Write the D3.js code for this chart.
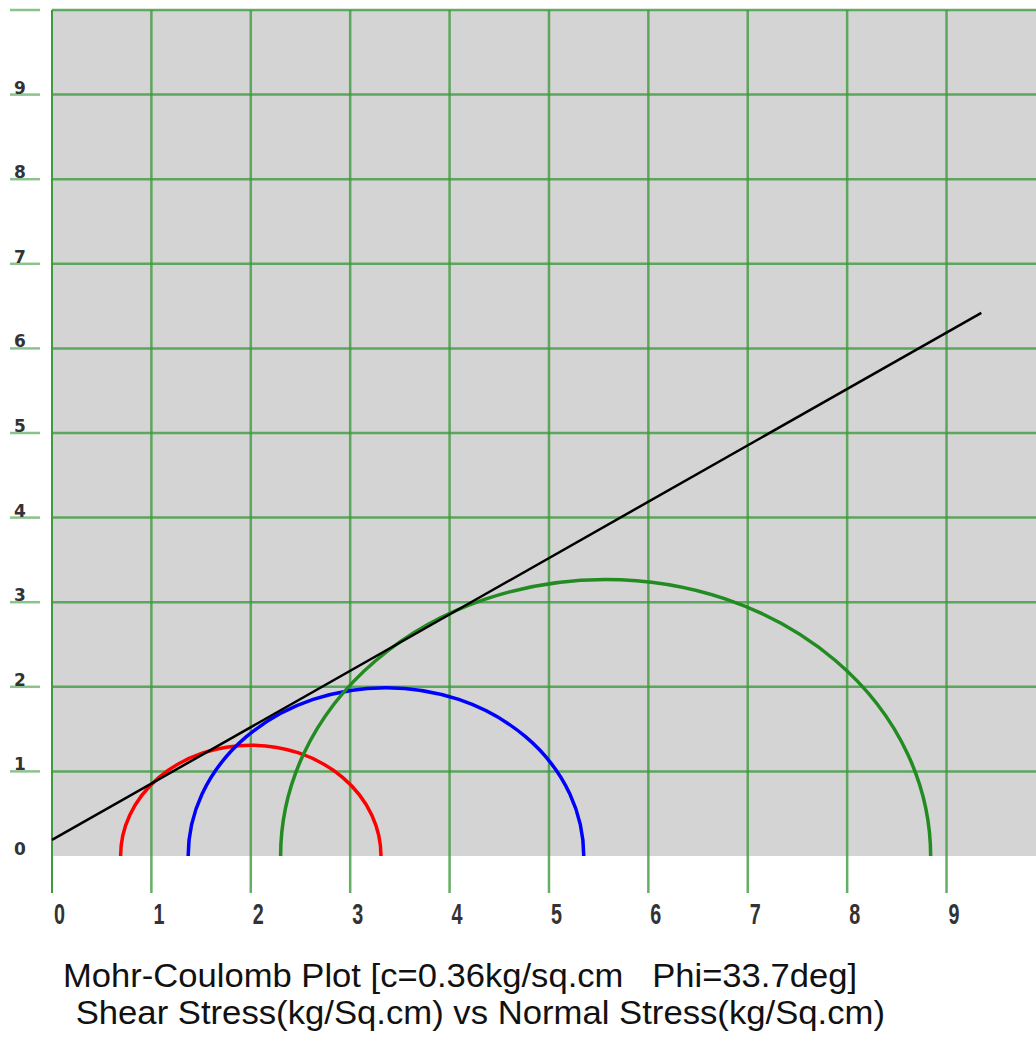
<!DOCTYPE html>
<html>
<head>
<meta charset="utf-8">
<script src="https://cdn.jsdelivr.net/npm/d3@7"></script>
<style>
  html, body { margin: 0; padding: 0; background: #fff; }
  svg { display: block; }
</style>
</head>
<body>
<div id="chart"></div>
<script>
// values
const xTicks = [0, 1, 2, 3, 4, 5, 6, 7, 8, 9];
const yTicks = [0, 1, 2, 3, 4, 5, 6, 7, 8, 9, 10];
const circleNames = ['test1', 'test2', 'test3'];
const circleCentres = [2.0, 3.36, 5.57];
const circleRadii = [1.31, 1.99, 3.27];
const circleColors = ['#ff0000', '#0000ff', '#228b22'];
const envelopeSigma = [0, 9.35];
const envelopeTau = [0.19, 6.42];
const titleLines = ['Mohr-Coulomb Plot [c=0.36kg/sq.cm   Phi=33.7deg]', ' Shear Stress(kg/Sq.cm) vs Normal Stress(kg/Sq.cm)'];

const W = 1036, H = 1037;
const svg = d3.select('#chart').append('svg').attr('width', W).attr('height', H);

const x = d3.scaleLinear().domain([0, 9.9]).range([52, 1036]);
const y = d3.scaleLinear().domain([0, 10]).range([856, 10]);
const grid = '#3f9a3f';

// grey plot area
svg.append('rect').attr('x', x(0)).attr('y', y(10))
    .attr('width', W - x(0)).attr('height', y(0) - y(10)).attr('fill', '#d4d4d4');

// horizontal grid + left tick marks
yTicks.filter(d => d > 0).forEach(d => {
    svg.append('line').attr('x1', x(0)).attr('x2', W).attr('y1', y(d)).attr('y2', y(d))
        .attr('stroke', grid).attr('stroke-width', 2.5).attr('stroke-opacity', 0.8);
    svg.append('line').attr('x1', 10).attr('x2', 40).attr('y1', y(d)).attr('y2', y(d))
        .attr('stroke', grid).attr('stroke-width', 2.5).attr('stroke-opacity', 0.6);
});

// vertical grid, running below the plot
xTicks.forEach(d => {
    svg.append('line').attr('x1', x(d)).attr('x2', x(d)).attr('y1', y(10)).attr('y2', 893)
        .attr('stroke', grid).attr('stroke-width', d === 0 ? 2 : 2.5).attr('stroke-opacity', d === 0 ? 1 : 0.8);
});

// y labels
svg.append('g').selectAll('text').data(yTicks.filter(d => d < 10)).join('text')
    .attr('x', 14).attr('y', d => y(d) - 1)
    .style('font', 'bold 17px "DejaVu Sans"').style('fill', '#333')
    .text(d => d);

// x labels (tall, condensed digits)
svg.append('g').selectAll('text').data(xTicks).join('text')
    .attr('x', d => x(d) + 2).attr('y', 924)
    .attr('textLength', 11).attr('lengthAdjust', 'spacingAndGlyphs')
    .style('font', 'bold 29px "Liberation Sans", Arial').style('fill', '#333')
    .text(d => d);

// Mohr circles (upper halves)
const arcPath = i => {
    const c = circleCentres[i], r = circleRadii[i];
    const rx = x(c + r) - x(c), ry = y(0) - y(r);
    return `M${x(c - r)},${y(0)}A${rx},${ry} 0 0 1 ${x(c + r)},${y(0)}`;
};
svg.append('g').selectAll('path').data(circleNames).join('path')
    .attr('d', (d, i) => arcPath(i))
    .attr('fill', 'none').attr('stroke', (d, i) => circleColors[i]).attr('stroke-width', 3.5);

// failure envelope
const env = envelopeSigma.map((s, i) => [s, envelopeTau[i]]);
svg.append('path').datum(env)
    .attr('d', d3.line().x(d => x(d[0])).y(d => y(d[1])))
    .attr('fill', 'none').attr('stroke', '#000').attr('stroke-width', 2.5);

// caption
const capX = [63, 66], capLen = [794, 819];
svg.append('g').selectAll('text').data(titleLines).join('text')
    .attr('x', (d, i) => capX[i]).attr('y', (d, i) => 987 + i * 37)
    .attr('xml:space', 'preserve')
    .attr('textLength', (d, i) => capLen[i]).attr('lengthAdjust', 'spacingAndGlyphs')
    .style('font', '33px "Liberation Sans", Arial')
    .style('fill', '#111')
    .style('white-space', 'pre')
    .text(d => d);
</script>
</body>
</html>
